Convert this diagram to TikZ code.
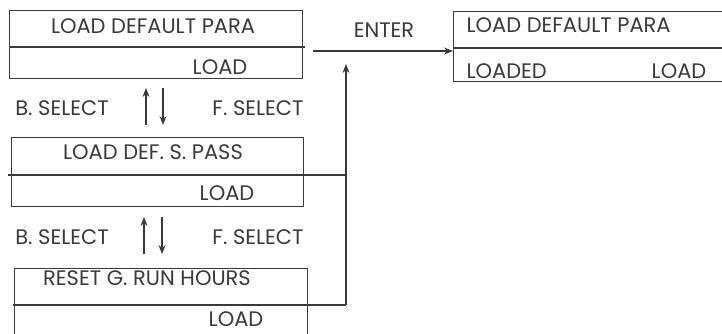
\documentclass[tikz,border=0pt]{standalone}
\usepackage{fontspec}
\setmainfont{Poppins}
\usetikzlibrary{arrows.meta}
\definecolor{ink}{HTML}{3A3A3A}
\begin{document}
\begin{tikzpicture}[x=1pt,y=-1pt,font=\fontsize{21}{21}\selectfont,line width=1.2pt,draw=ink,text=ink,>={Stealth[length=9pt,width=7pt]},
panel/.style={draw,inner sep=0pt,anchor=north west},
txt/.style={inner sep=0pt,anchor=base}]
\useasboundingbox (0,0) rectangle (722,333);
\node[panel,minimum width=293pt,minimum height=68pt] (p1) at (9,10) {};
\node[panel,minimum width=292pt,minimum height=69pt] (p2) at (11,137) {};
\node[panel,minimum width=293pt,minimum height=80pt] (p3) at (14,268) {};
\node[panel,minimum width=280pt,minimum height=70pt] (p4) at (453,11) {};
\node[txt] (p1top) at (153,33) {LOAD DEFAULT PARA};
\node[txt] (p1val) at (220,74) {LOAD};
\node[txt] (p2top) at (153,159) {LOAD DEF. S. PASS};
\node[txt] (p2val) at (227,200) {LOAD};
\node[txt] (p3top) at (147,285) {RESET G. RUN HOURS};
\node[txt] (p3val) at (236,326) {LOAD};
\node[txt,anchor=base west] (p4top) at (466,32) {LOAD DEFAULT PARA};
\node[txt,anchor=base west] (p4left) at (466,78) {LOADED};
\node[txt] (p4right) at (679,78) {LOAD};
\node[txt] (enter) at (384,37) {ENTER};
\foreach \y/\n in {115/1,244/2}{
\node[txt] (bsel\n) at (62,\y) {B. SELECT};
\node[txt] (fsel\n) at (258,\y) {F. SELECT};
}
\coordinate (up1a) at (146,125); \coordinate (up1b) at (146,88);
\coordinate (dn1a) at (163,88); \coordinate (dn1b) at (163,125);
\coordinate (up2a) at (144,254); \coordinate (up2b) at (144,217);
\coordinate (dn2a) at (162,217); \coordinate (dn2b) at (162,254);
\draw[->] (up1a) -- (up1b); \draw[->] (dn1a) -- (dn1b);
\draw[->] (up2a) -- (up2b); \draw[->] (dn2a) -- (dn2b);
\coordinate (j2) at (346,175);
\coordinate (j3) at (346,305);
\coordinate (jtop) at (346,64);
\coordinate (go) at (313,51);
\draw (p1.west |- 0,47) -- ([xshift=2pt]p1.east |- 0,47);
\draw ([xshift=-3pt]p2.west |- j2) -- (j2);
\draw ([xshift=-1pt]p3.west |- j3) -- (j3);
\draw[->] (j3) -- (jtop);
\draw[->] (go) -- (p4.west |- go);
\draw (p4.west |- 0,48) -- (p4.east |- 0,48);
\end{tikzpicture}
\end{document}
